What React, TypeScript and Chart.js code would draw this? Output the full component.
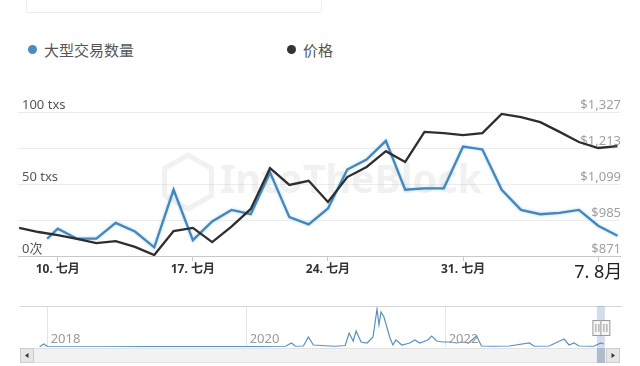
import { useEffect, useRef } from "react";
import { Chart, registerables } from "chart.js";

Chart.register(...registerables);

const FONT = '"Noto Sans", "Noto Sans CJK SC", sans-serif';

// Main chart data (days: July d = d, Aug d = 31 + d, 2023)
const txDays = [9.45, 10, 11, 12, 13, 14, 15, 16, 17, 18, 19, 20, 21, 22, 23, 24, 25, 26, 27, 28, 29, 30, 31, 32, 33, 34, 35, 36, 37, 38, 39];
const txValues = [12, 19, 12, 12, 23, 17, 6, 46, 11, 24, 32, 29, 58, 27, 22, 33, 60, 67, 80, 46, 47, 47, 76, 74, 46, 32, 29, 30, 32, 21, 14];
const priceDays = [8, 9, 10, 11, 12, 13, 14, 15, 16, 17, 18, 19, 20, 21, 22, 23, 24, 25, 26, 27, 28, 29, 30, 31, 32, 33, 34, 35, 36, 37, 38, 39];
const priceValues = [960, 947, 937, 925, 912, 918, 900, 874, 950, 960, 915, 964, 1020, 1149, 1096, 1109, 1042, 1121, 1153, 1203, 1169, 1264, 1260, 1254, 1260, 1321, 1311, 1295, 1264, 1232, 1213, 1219];

const dateTickValues = [10, 17, 24, 31, 38];
const dateTickLabels = ["10. 七月", "17. 七月", "24. 七月", "31. 七月", "7. 8月"];
const txTickValues = [0, 50, 100];
const txTickLabels = ["0次", "50 txs", "100 txs"];
const priceTickValues = [871, 985, 1099, 1213, 1327];

// Navigator data (decimal years)
const navYears = [2017.92, 2017.96, 2018.0, 2018.53, 2019.03, 2019.53, 2019.93, 2020.39, 2020.45, 2020.49, 2020.57, 2020.62, 2020.67, 2020.79, 2020.89, 2020.99, 2021.03, 2021.07, 2021.1, 2021.15, 2021.21, 2021.27, 2021.31, 2021.33, 2021.35, 2021.38, 2021.44, 2021.47, 2021.5, 2021.56, 2021.64, 2021.69, 2021.74, 2021.82, 2021.86, 2021.91, 2021.97, 2022.04, 2022.11, 2022.17, 2022.23, 2022.31, 2022.36, 2022.48, 2022.64, 2022.84, 2022.89, 2023.04, 2023.19, 2023.24, 2023.29, 2023.34, 2023.49, 2023.56, 2023.59];
const navValues = [5, 60, 10, 5, 10, 8, 10, 15, 80, 15, 20, 200, 40, 25, 15, 30, 280, 120, 320, 100, 80, 200, 760, 440, 700, 600, 180, 40, 140, 40, 80, 140, 80, 140, 220, 120, 100, 100, 80, 100, 80, 220, 20, 15, 20, 80, 15, 20, 160, 40, 80, 20, 15, 80, 60];
const navYearTicks = [2018, 2020, 2022];
const navSelection = [2023.52, 2023.6];

const legendItems = [
  { label: "大型交易数量", color: "#4a8bc6" },
  { label: "价格", color: "#333333" },
];

const BLUE = "#4686b9";
const DARK = "#2e2e2e";

export default function App() {
  const mainRef = useRef<HTMLCanvasElement | null>(null);
  const navRef = useRef<HTMLCanvasElement | null>(null);

  useEffect(() => {
    const watermark = {
      id: "watermark",
      beforeDatasetsDraw(chart: any) {
        const { ctx } = chart;
        ctx.save();
        ctx.fillStyle = "rgba(190,190,190,0.22)";
        ctx.strokeStyle = "rgba(190,190,190,0.22)";
        ctx.font = `bold 40px ${FONT}`;
        const w = ctx.measureText("IntoTheBlock").width;
        const size = (40 * 262) / w;
        ctx.font = `bold ${size}px ${FONT}`;
        ctx.textAlign = "left";
        ctx.textBaseline = "middle";
        ctx.fillText("IntoTheBlock", 220, 182);
        ctx.lineWidth = 5;
        ctx.beginPath();
        for (let i = 0; i < 6; i++) {
          const a = Math.PI / 6 + (i * Math.PI) / 3;
          const px = 188 + 27 * Math.cos(a);
          const py = 182 + 27 * Math.sin(a);
          if (i === 0) ctx.moveTo(px, py);
          else ctx.lineTo(px, py);
        }
        ctx.closePath();
        ctx.stroke();
        ctx.restore();
      },
      beforeDatasetDraw(chart: any, args: any) {
        if (args.index === 0) {
          chart.ctx.save();
          chart.ctx.shadowColor = "rgba(150,205,240,0.8)";
          chart.ctx.shadowBlur = 3;
        }
      },
      afterDatasetDraw(chart: any, args: any) {
        if (args.index === 0) chart.ctx.restore();
      },
    };

    const main = new Chart(mainRef.current!, {
      type: "line",
      data: {
        datasets: [
          {
            label: legendItems[0].label,
            data: txDays.map((d, i) => ({ x: d, y: txValues[i] })),
            borderColor: BLUE,
            borderWidth: 2.3,
            pointRadius: 0,
            tension: 0,
            yAxisID: "yTx",
            order: 1,
          },
          {
            label: legendItems[1].label,
            data: priceDays.map((d, i) => ({ x: d, y: priceValues[i] })),
            borderColor: DARK,
            borderWidth: 2.3,
            pointRadius: 0,
            tension: 0,
            yAxisID: "yPrice",
            order: 0,
          },
        ],
      },
      options: {
        animation: false,
        responsive: false,
        maintainAspectRatio: false,
        layout: { padding: { left: 18, right: 20, top: 112, bottom: 4 } },
        plugins: { legend: { display: false }, tooltip: { enabled: false } },
        scales: {
          x: {
            type: "linear",
            min: 7.94,
            max: 39.13,
            afterBuildTicks: (s: any) => {
              s.ticks = dateTickValues.map((v) => ({ value: v }));
            },
            afterFit: (s: any) => {
              s.height = 30;
            },
            ticks: {
              autoSkip: false,
              maxRotation: 0,
              padding: 1,
              callback: (v: any) => dateTickLabels[dateTickValues.indexOf(Number(v))],
              font: (c: any) =>
                c.index === dateTickValues.length - 1
                  ? { size: 18, family: FONT, weight: "normal" }
                  : { size: 12, family: FONT, weight: "bold" },
              color: (c: any) => (c.index === dateTickValues.length - 1 ? "#222" : "#333"),
            },
            grid: { display: true, drawOnChartArea: false, drawTicks: true, tickLength: 5, color: "#c8c8c8" },
            border: { display: true, color: "#c8c8c8" },
          },
          yTx: {
            position: "left",
            min: 0,
            max: 100,
            afterBuildTicks: (s: any) => {
              s.ticks = txTickValues.map((v) => ({ value: v }));
            },
            afterFit: (s: any) => {
              s.width = 0;
            },
            ticks: {
              mirror: true,
              padding: 4,
              labelOffset: -7,
              color: "#555",
              font: { size: 13, family: FONT },
              callback: (v: any) => txTickLabels[txTickValues.indexOf(Number(v))],
            },
            grid: { display: false, drawTicks: false },
            border: { display: false },
          },
          yPrice: {
            position: "right",
            min: 871,
            max: 1327,
            afterBuildTicks: (s: any) => {
              s.ticks = priceTickValues.map((v) => ({ value: v }));
            },
            afterFit: (s: any) => {
              s.width = 0;
            },
            ticks: {
              mirror: true,
              padding: 1,
              labelOffset: -7,
              color: "#a0a0a0",
              font: { size: 13, family: FONT },
              callback: (v: any) => "$" + Number(v).toLocaleString("en-US"),
            },
            grid: { display: true, drawTicks: false, color: "#ececec" },
            border: { display: false },
          },
        },
      },
      plugins: [watermark],
    });

    const navDecor = {
      id: "navDecor",
      afterDraw(chart: any) {
        const { ctx, chartArea } = chart;
        const xs = chart.scales.x;
        ctx.save();
        ctx.strokeStyle = "#d6d6d6";
        ctx.lineWidth = 1;
        ctx.beginPath();
        ctx.moveTo(chartArea.left, chartArea.top + 0.5);
        ctx.lineTo(chartArea.right + 2, chartArea.top + 0.5);
        ctx.stroke();
        ctx.fillStyle = "#999";
        ctx.font = `13px ${FONT}`;
        ctx.textAlign = "left";
        ctx.textBaseline = "middle";
        navYearTicks.forEach((y) => {
          ctx.fillText(String(y), xs.getPixelForValue(y) + 3, 39);
        });
        const sTop = 48, sH = 15;
        ctx.fillStyle = "#f2f2f2";
        ctx.fillRect(chartArea.left, sTop, chartArea.right - chartArea.left, sH);
        ctx.strokeStyle = "#e2e2e2";
        ctx.strokeRect(chartArea.left + 0.5, sTop + 0.5, chartArea.right - chartArea.left - 1, sH - 1);
        const x0 = xs.getPixelForValue(navSelection[0]);
        const x1 = xs.getPixelForValue(navSelection[1]);
        ctx.fillStyle = "#cfcfcf";
        ctx.fillRect(x0, sTop, x1 - x0, sH);
        const btn = (bx: number, dir: number) => {
          ctx.fillStyle = "#e6e6e6";
          ctx.fillRect(bx, sTop, 14, sH);
          ctx.strokeStyle = "#cccccc";
          ctx.strokeRect(bx + 0.5, sTop + 0.5, 13, sH - 1);
          ctx.fillStyle = "#333";
          ctx.beginPath();
          const cx = bx + 7, cy = sTop + sH / 2;
          ctx.moveTo(cx - 2 * dir, cy);
          ctx.lineTo(cx + 1.5 * dir, cy - 2.5);
          ctx.lineTo(cx + 1.5 * dir, cy + 2.5);
          ctx.closePath();
          ctx.fill();
        };
        btn(chartArea.left, 1);
        btn(chartArea.right - 14, -1);
        ctx.fillStyle = "rgba(102,133,194,0.28)";
        ctx.fillRect(x0, chartArea.top, x1 - x0, sTop + sH - chartArea.top);
        const handle = (hx: number) => {
          ctx.fillStyle = "#f6f6f6";
          ctx.fillRect(hx - 4.5, 20, 9, 15);
          ctx.strokeStyle = "#999";
          ctx.strokeRect(hx - 4.5 + 0.5, 20.5, 9, 15);
          ctx.beginPath();
          ctx.moveTo(hx - 1, 24);
          ctx.lineTo(hx - 1, 32);
          ctx.moveTo(hx + 2, 24);
          ctx.lineTo(hx + 2, 32);
          ctx.stroke();
        };
        handle(x0);
        handle(x1);
        ctx.restore();
      },
    };

    const nav = new Chart(navRef.current!, {
      type: "line",
      data: {
        datasets: [
          {
            data: navYears.map((y, i) => ({ x: y, y: navValues[i] })),
            borderColor: "#5b92bd",
            borderWidth: 1.2,
            pointRadius: 0,
            tension: 0,
          },
        ],
      },
      options: {
        animation: false,
        responsive: false,
        maintainAspectRatio: false,
        layout: { padding: { left: 20, right: 20, top: 6, bottom: 19 } },
        plugins: { legend: { display: false }, tooltip: { enabled: false } },
        scales: {
          x: {
            type: "linear",
            min: 2017.722,
            max: 2023.752,
            afterBuildTicks: (s: any) => {
              s.ticks = navYearTicks.map((v) => ({ value: v }));
            },
            afterFit: (s: any) => {
              s.height = 0;
            },
            ticks: { display: false },
            grid: { display: true, drawTicks: false, color: "#e4e4e4" },
            border: { display: false },
          },
          y: { display: false, min: 0, max: 820 },
        },
      },
      plugins: [navDecor],
    });

    return () => {
      main.destroy();
      nav.destroy();
    };
  }, []);

  return (
    <div style={{ position: "absolute", left: 0, top: 0, width: 640, height: 366, background: "#fff", overflow: "hidden", fontFamily: FONT }}>
      <div style={{ position: "absolute", left: 26, top: -12, width: 294, height: 23, border: "1px solid #ededed", borderRadius: 2 }} />
      {legendItems.map((it, i) => (
        <div
          key={it.label}
          style={{ position: "absolute", left: i === 0 ? 28 : 287, top: 38, height: 22, display: "flex", alignItems: "center", fontSize: 15, color: "#555", whiteSpace: "nowrap" }}
        >
          <span style={{ display: "inline-block", width: 9, height: 9, borderRadius: "50%", background: it.color, marginRight: 7 }} />
          {it.label}
        </div>
      ))}
      <canvas ref={mainRef} width={640} height={290} style={{ position: "absolute", left: 0, top: 0, width: 640, height: 290 }} />
      <canvas ref={navRef} width={640} height={66} style={{ position: "absolute", left: 0, top: 300, width: 640, height: 66 }} />
    </div>
  );
}
